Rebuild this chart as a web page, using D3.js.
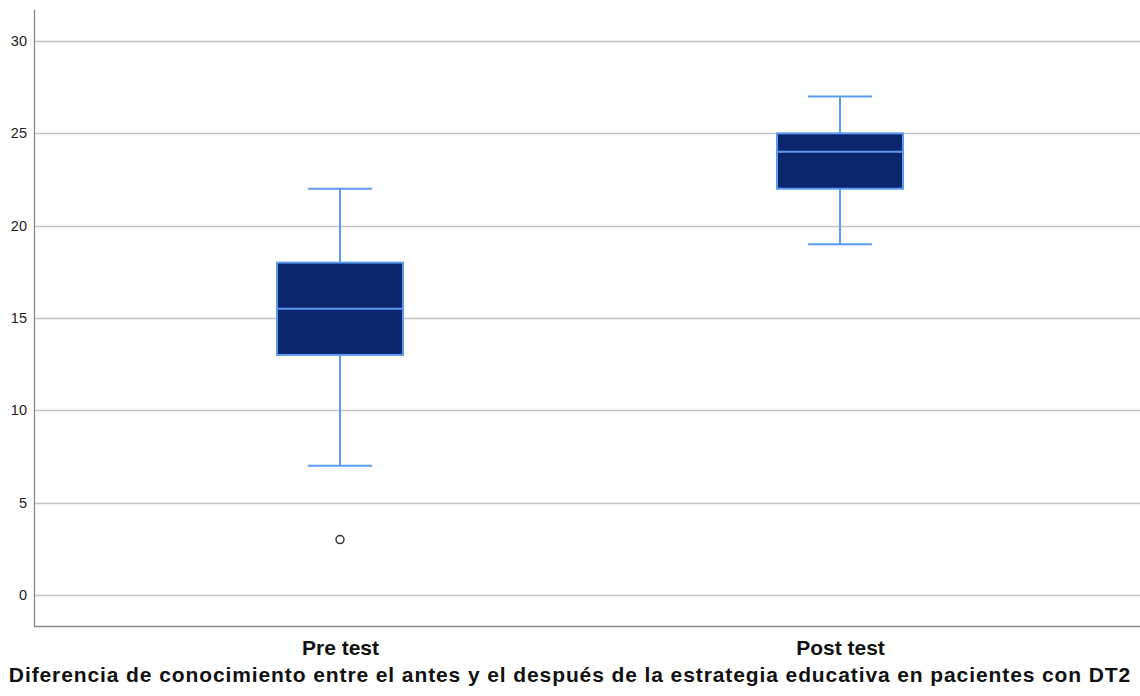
<!DOCTYPE html>
<html>
<head>
<meta charset="utf-8">
<script src="https://cdn.jsdelivr.net/npm/d3@7"></script>
<style>
  body { margin: 0; background: #fff; }
  svg { display: block; font-family: "Liberation Sans", Arial, sans-serif; }
</style>
</head>
<body>
<div id="chart"></div>
<script>
// data
var groups = ["Pre test", "Post test"];
var whiskerLow = [7, 19];
var q1 = [13, 22];
var median = [15.5, 24];
var q3 = [18, 25];
var whiskerHigh = [22, 27];
var outliers = [[3], []];
var yTicks = [0, 5, 10, 15, 20, 25, 30];
var xTitle = "Diferencia de conocimiento entre el antes y el después de la estrategia educativa en pacientes con DT2";

var width = 1140, height = 696;
var plotLeft = 34, plotTop = 10, plotBottom = 626;

var svg = d3.select("#chart").append("svg")
	.attr("width", width)
	.attr("height", height);

var y = d3.scaleLinear()
	.domain([-1.68, 31.68])
	.range([plotBottom, plotTop]);

var x = d3.scalePoint()
	.domain(groups)
	.range([40, 1140])
	.padding(0.6);

var boxW = 126, capW = 64;

// gridlines
svg.append("g")
	.selectAll("line")
	.data(yTicks)
	.enter().append("line")
	.attr("x1", plotLeft).attr("x2", width)
	.attr("y1", d => Math.round(y(d)) + 0.5)
	.attr("y2", d => Math.round(y(d)) + 0.5)
	.attr("stroke", "#c4c4c4")
	.attr("stroke-width", 1.3);

// y axis
var yAxis = d3.axisLeft(y).tickValues(yTicks).tickSize(0).tickPadding(7);
var gy = svg.append("g")
	.attr("transform", "translate(" + plotLeft + ",0)")
	.call(yAxis);
gy.select(".domain").remove();
gy.selectAll("text").attr("font-size", 14.5).attr("fill", "#222");

svg.append("line")
	.attr("x1", plotLeft + 0.5).attr("x2", plotLeft + 0.5)
	.attr("y1", plotTop).attr("y2", plotBottom)
	.attr("stroke", "#888").attr("stroke-width", 1.3);

// x axis
var xAxis = d3.axisBottom(x).tickSize(0).tickPadding(14);
var gx = svg.append("g")
	.attr("transform", "translate(0," + (plotBottom + 0.5) + ")")
	.call(xAxis);
gx.select(".domain").attr("d", "M" + plotLeft + ",0H" + width).attr("stroke", "#888").attr("stroke-width", 1.3);
gx.selectAll("text").attr("font-size", 21).attr("font-weight", "bold").attr("fill", "#111");

svg.append("text")
	.attr("x", 570).attr("y", 682)
	.attr("text-anchor", "middle")
	.attr("font-size", 21).attr("font-weight", "bold").attr("fill", "#111")
	.attr("letter-spacing", 0.9)
	.text(xTitle);

// boxes
var lineColor = "#5b9bf0";
var boxes = svg.append("g").selectAll("g")
	.data(groups)
	.enter().append("g");

boxes.append("line")
	.attr("x1", d => x(d)).attr("x2", d => x(d))
	.attr("y1", (d, i) => y(whiskerHigh[i])).attr("y2", (d, i) => y(q3[i]))
	.attr("stroke", lineColor).attr("stroke-width", 2);
boxes.append("line")
	.attr("x1", d => x(d)).attr("x2", d => x(d))
	.attr("y1", (d, i) => y(q1[i])).attr("y2", (d, i) => y(whiskerLow[i]))
	.attr("stroke", lineColor).attr("stroke-width", 2);
boxes.append("line")
	.attr("x1", d => x(d) - capW / 2).attr("x2", d => x(d) + capW / 2)
	.attr("y1", (d, i) => y(whiskerHigh[i])).attr("y2", (d, i) => y(whiskerHigh[i]))
	.attr("stroke", lineColor).attr("stroke-width", 2);
boxes.append("line")
	.attr("x1", d => x(d) - capW / 2).attr("x2", d => x(d) + capW / 2)
	.attr("y1", (d, i) => y(whiskerLow[i])).attr("y2", (d, i) => y(whiskerLow[i]))
	.attr("stroke", lineColor).attr("stroke-width", 2);

boxes.append("rect")
	.attr("x", d => x(d) - boxW / 2)
	.attr("width", boxW)
	.attr("y", (d, i) => y(q3[i]))
	.attr("height", (d, i) => y(q1[i]) - y(q3[i]))
	.attr("fill", "#0b266d")
	.attr("stroke", lineColor).attr("stroke-width", 2);

boxes.append("line")
	.attr("x1", d => x(d) - boxW / 2).attr("x2", d => x(d) + boxW / 2)
	.attr("y1", (d, i) => y(median[i])).attr("y2", (d, i) => y(median[i]))
	.attr("stroke", lineColor).attr("stroke-width", 2);

// outliers
boxes.each(function(d, i) {
	d3.select(this).selectAll("circle")
		.data(outliers[i])
		.enter().append("circle")
		.attr("cx", x(d))
		.attr("cy", v => y(v))
		.attr("r", 4)
		.attr("fill", "#fff")
		.attr("stroke", "#333")
		.attr("stroke-width", 1.5);
});
</script>
</body>
</html>
